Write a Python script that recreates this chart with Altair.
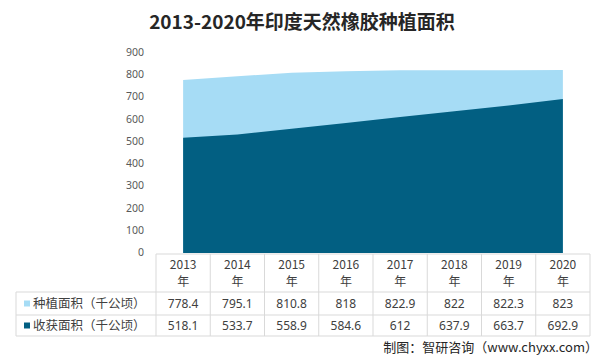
import altair as alt
import pandas as pd

# ---- data ----
years = ["2013", "2014", "2015", "2016", "2017", "2018", "2019", "2020"]
planted = [778.4, 795.1, 810.8, 818, 822.9, 822, 822.3, 823]
harvested = [518.1, 533.7, 558.9, 584.6, 612, 637.9, 663.7, 692.9]
series_names = ["种植面积（千公顷）", "收获面积（千公顷）"]
colors = ["#a6dcf5", "#025f82"]
y_ticks = [0, 100, 200, 300, 400, 500, 600, 700, 800, 900]
title_text = "2013-2020年印度天然橡胶种植面积"
source_text = "制图：智研咨询（www.chyxx.com）"

df = pd.DataFrame({
    "year": years,
    "planted": planted,
    "harvested": harvested,
    "planted_s": [f"{v:g}" for v in planted],
    "harvested_s": [f"{v:g}" for v in harvested],
    "header": [y + "\n年" for y in years],
})
ticks_df = pd.DataFrame({"v": y_ticks, "label": [str(t) for t in y_ticks]})

W, H = 434, 200
STEP = W / len(years)
FONT = "Noto Sans CJK SC"
GRID = "#d9d9d9"
TXT = "#404040"

xs = alt.X("year:O", scale=alt.Scale(type="point", padding=0.5, domain=years), axis=None)
ysc = alt.Scale(domain=[0, 900], nice=False, zero=True)

base = alt.Chart(df)

area_planted = base.mark_area(color=colors[0], opacity=1).encode(
    x=xs, y=alt.Y("planted:Q", scale=ysc, title=None, axis=None),
)
area_harvested = base.mark_area(color=colors[1], opacity=1).encode(
    x=xs, y=alt.Y("harvested:Q", scale=ysc, title=None, axis=None)
)

# y-axis labels, placed through the y scale
ylabels = alt.Chart(ticks_df).mark_text(
    align="right", baseline="middle", font="Noto Sans", fontSize=10.5, color="#595959"
).encode(
    x=alt.value(-12), y=alt.Y("v:Q", scale=ysc, axis=None, title=None), text="label:N"
)

# table grid
one = pd.DataFrame({"k": [0]})
def hrule(y, x0, x1):
    return alt.Chart(one).mark_rule(color=GRID, strokeWidth=1).encode(
        x=alt.value(x0), x2=alt.value(x1), y=alt.value(y))

def vrule(x, y0, y1):
    return alt.Chart(one).mark_rule(color=GRID, strokeWidth=1).encode(
        x=alt.value(x), y=alt.value(y0), y2=alt.value(y1))

col_rules = base.mark_rule(color=GRID, strokeWidth=1, xOffset=-STEP / 2).encode(
    x=xs, y=alt.value(201), y2=alt.value(283))

grid = [
    hrule(201, 0, W),
    hrule(239, -140, W),
    hrule(262, -140, W),
    hrule(283, -140, W),
    vrule(-140, 239, 283),
    vrule(W, 201, 283),
    col_rules,
]

header_text = base.mark_text(font=FONT, fontSize=12, color=TXT, lineBreak="\n",
                             lineHeight=17, baseline="middle").encode(
    x=xs, y=alt.value(212), text="header:N")
row1 = base.mark_text(font="Noto Sans", fontSize=12, color=TXT, baseline="middle").encode(
    x=xs, y=alt.value(250.5), text="planted_s:N")
row2 = base.mark_text(font="Noto Sans", fontSize=12, color=TXT, baseline="middle").encode(
    x=xs, y=alt.value(272.5), text="harvested_s:N")

names = pd.DataFrame({"name": series_names, "color": colors})
sq1 = alt.Chart(names.iloc[[0]]).mark_square(size=36, opacity=1).encode(
    x=alt.value(-129), y=alt.value(250.5), color=alt.Color("color:N", scale=None))
sq2 = alt.Chart(names.iloc[[1]]).mark_square(size=36, opacity=1).encode(
    x=alt.value(-129), y=alt.value(272.5), color=alt.Color("color:N", scale=None))
lab1 = alt.Chart(names.iloc[[0]]).mark_text(font=FONT, fontSize=12.5, color=TXT, align="left",
                                            baseline="middle").encode(
    x=alt.value(-123), y=alt.value(250.5), text="name:N")
lab2 = alt.Chart(names.iloc[[1]]).mark_text(font=FONT, fontSize=12.5, color=TXT, align="left",
                                            baseline="middle").encode(
    x=alt.value(-123), y=alt.value(272.5), text="name:N")

texts = pd.DataFrame({"title": [title_text], "source": [source_text]})
title = alt.Chart(texts).mark_text(font=FONT, fontSize=19, fontWeight="bold", color="#262626",
                                   baseline="middle").encode(
    x=alt.value(146), y=alt.value(-30), text="title:N")
source = alt.Chart(texts).mark_text(font=FONT, fontSize=13, color="#262626", align="right",
                                    baseline="middle").encode(
    x=alt.value(442), y=alt.value(295), text="source:N")

chart = alt.layer(
    area_planted, area_harvested, ylabels, *grid, header_text, row1, row2,
    sq1, sq2, lab1, lab2, title, source
).properties(
    width=W, height=H,
    autosize=alt.AutoSizeParams(type="none"),
    padding={"left": 148, "top": 45, "right": 8, "bottom": 103},
).configure(background="white").configure_view(stroke=None)

chart.save("out.html", embed_options={"renderer": "svg", "actions": False})
